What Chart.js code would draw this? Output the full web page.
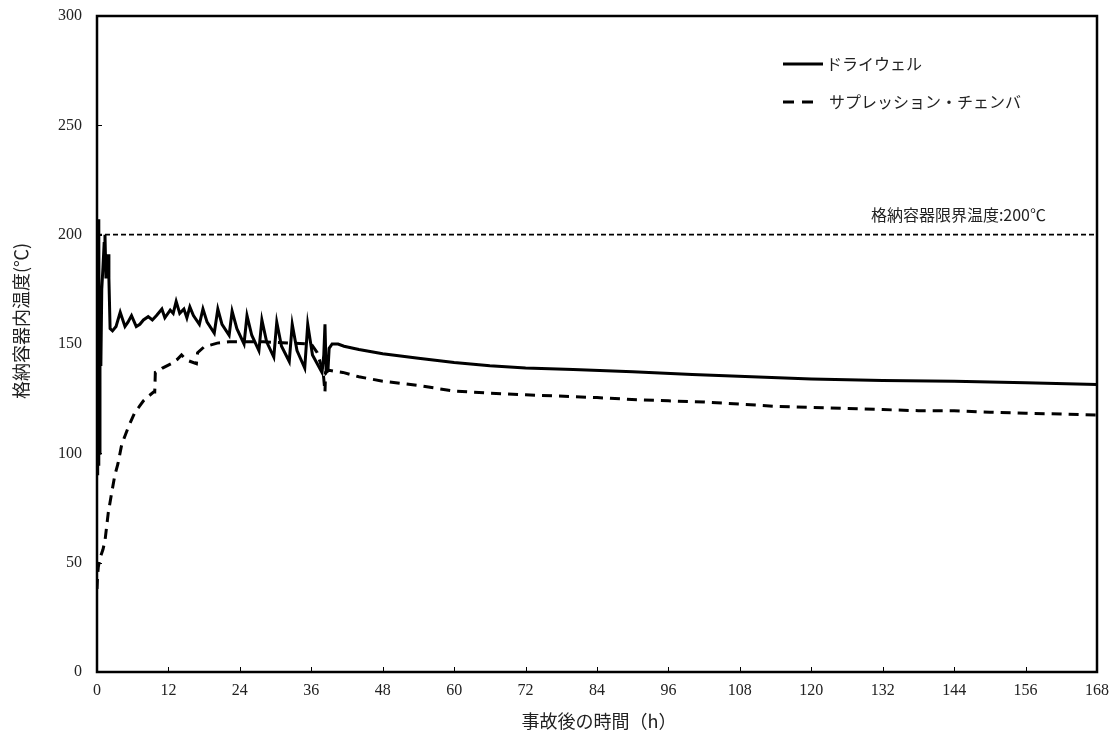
<!DOCTYPE html>
<html>
<head>
<meta charset="utf-8">
<script src="https://cdn.jsdelivr.net/npm/chart.js@4.4.1/dist/chart.umd.min.js"></script>
<style>
  body { margin: 0; background: #fff; }
  #wrap { width: 1120px; height: 744px; }
</style>
</head>
<body>
<div id="wrap"><canvas id="chart"></canvas></div>
<script>
// ドライウェル (solid)
const dwTime = [0, 0.08, 0.15, 0.22, 0.3, 0.38, 0.5, 0.65, 0.8, 1.0, 1.2, 1.34, 1.5, 1.7, 1.85, 2.0, 2.2,
  2.6, 3.2, 3.9, 4.7, 5.2, 5.8, 6.6, 7.2, 7.8, 8.6, 9.3, 10.0, 10.9, 11.4, 12.3, 12.8, 13.3, 13.9, 14.6,
  15.1, 15.6, 16.2, 17.2, 17.8, 18.5, 19.7, 20.3, 21.0, 22.2, 22.7, 23.5, 24.7, 25.2, 26.0, 27.2, 27.7,
  28.5, 29.7, 30.2, 31.0, 32.3, 32.8, 33.6, 34.9, 35.4, 36.2, 37.8, 38.1, 38.3, 38.5, 38.8, 39.0, 39.5,
  40.5, 41.5, 44, 48, 54, 60, 66, 72, 80, 90, 100, 110, 120, 132, 144, 156, 168];
const dwTemp = [140, 90, 160, 95, 207, 100, 150, 140, 175, 185, 196, 200, 180, 188, 191, 180, 157,
  156, 158, 164.5, 158, 160, 163, 158, 159, 161, 162.5, 161, 163, 166, 162, 165.5, 164, 169.5, 164, 166,
  162, 167, 163, 159, 166, 160, 155, 166, 159, 154, 165, 157, 150, 163, 154, 147, 161,
  151, 144, 160, 149, 142, 159, 147, 139, 159, 145, 137, 145, 159, 137, 138, 148, 150,
  150, 149, 147.5, 145.5, 143.5, 141.5, 140, 139, 138.3, 137.3, 136, 135, 134, 133.3, 133, 132.3, 131.5];

// サプレッション・チェンバ (dashed)
const scTime = [0, 0.1, 0.22, 0.5, 1.0, 1.34, 1.9, 2.47, 3.0, 3.5, 4.15, 5.26, 6.4, 7.0, 7.8, 8.6, 9.5,
  9.7, 9.8, 10.3, 11.0, 12.5, 13.5, 14.2, 15.0, 16.7, 16.9, 18.0, 20.2, 22.2, 24, 28, 32, 36, 37, 37.8,
  38.0, 38.3, 38.4, 39, 40, 41.3, 44, 48, 54, 57.6, 60, 66, 72, 74.4, 84, 90.7, 96, 102, 108, 114, 120,
  126, 132, 138, 144, 150, 156, 162, 168];
const scTemp = [38, 44, 48, 52, 56, 60, 73, 82, 90, 95, 104, 112, 119, 121, 124, 126, 128,
  128, 137, 137.5, 139, 141, 143, 145, 142.7, 141, 146, 148.7, 150.4, 151, 151, 151, 150.5, 150, 146, 139,
  137, 128, 137, 138, 137.5, 137, 135, 133, 131, 129.5, 128.5, 127.5, 126.8, 126.5, 125.5, 124.5, 124, 123.5, 122.5, 121.5, 121,
  120.5, 120, 119.5, 119.5, 118.8, 118.3, 118, 117.5];

// 格納容器限界温度
const limitTime = [0, 168];
const limitTemp = [200, 200];

const xTicks = [0, 12, 24, 36, 48, 60, 72, 84, 96, 108, 120, 132, 144, 156, 168];
const yTicks = [0, 50, 100, 150, 200, 250, 300];

const seriesNames = ["ドライウェル", "サプレッション・チェンバ"];
const limitLabel = "格納容器限界温度:200℃";
const xTitle = "事故後の時間（h）";
const yTitle = "格納容器内温度(℃)";

const numFont = '"Liberation Serif", "DejaVu Serif", serif';
const jpFont = '"Noto Sans CJK JP", sans-serif';

function pts(xs, ys) {
  return xs.map((x, i) => ({ x: x, y: ys[i] }));
}

// frame, inward ticks, legend, annotation and axis titles
const decorPlugin = {
  id: "decor",
  afterDatasetsDraw(chart) {
    const ctx = chart.ctx;
    const a = chart.chartArea;
    const xs = chart.scales.x, ys = chart.scales.y;
    ctx.save();
    ctx.strokeStyle = "#000";
    ctx.lineWidth = 1;
    xTicks.forEach(v => {
      const px = Math.round(xs.getPixelForValue(v)) + 0.5;
      ctx.beginPath();
      ctx.moveTo(px, a.bottom);
      ctx.lineTo(px, a.bottom - 5);
      ctx.stroke();
    });
    yTicks.forEach(v => {
      const py = Math.round(ys.getPixelForValue(v)) + 0.5;
      ctx.beginPath();
      ctx.moveTo(a.left, py);
      ctx.lineTo(a.left + 5, py);
      ctx.stroke();
    });
    ctx.lineWidth = 2.5;
    ctx.strokeRect(a.left, a.top, a.right - a.left, a.bottom - a.top);

    // legend
    ctx.lineWidth = 3;
    ctx.beginPath();
    ctx.moveTo(783, 64);
    ctx.lineTo(823, 64);
    ctx.stroke();
    ctx.setLineDash([11, 8]);
    ctx.beginPath();
    ctx.moveTo(783, 102);
    ctx.lineTo(813, 102);
    ctx.stroke();
    ctx.setLineDash([]);
    ctx.fillStyle = "#222";
    ctx.font = "16px " + jpFont;
    ctx.textAlign = "left";
    ctx.textBaseline = "middle";
    ctx.fillText(seriesNames[0], 826, 64);
    ctx.fillText(seriesNames[1], 829, 102);

    // limit label
    ctx.textAlign = "right";
    ctx.fillText(limitLabel, 1046, 215);

    // axis titles
    ctx.font = "18px " + jpFont;
    ctx.textAlign = "center";
    ctx.fillText(xTitle, 599, 721);
    ctx.translate(21, 321);
    ctx.rotate(-Math.PI / 2);
    ctx.fillText(yTitle, 0, 0);
    ctx.restore();
  }
};

new Chart(document.getElementById("chart"), {
  type: "line",
  data: {
    datasets: [
      {
        label: seriesNames[0],
        data: pts(dwTime, dwTemp),
        borderColor: "#000",
        borderWidth: 3,
        pointRadius: 0,
        pointHitRadius: 0,
        tension: 0
      },
      {
        label: seriesNames[1],
        data: pts(scTime, scTemp),
        borderColor: "#000",
        borderWidth: 3,
        borderDash: [10, 7],
        pointRadius: 0,
        pointHitRadius: 0,
        tension: 0
      },
      {
        label: limitLabel,
        data: pts(limitTime, limitTemp),
        borderColor: "#000",
        borderWidth: 1.8,
        borderDash: [5, 3],
        pointRadius: 0,
        pointHitRadius: 0
      }
    ]
  },
  options: {
    responsive: true,
    maintainAspectRatio: false,
    animation: false,
    layout: { autoPadding: false, padding: { top: 16, right: 23, left: 0, bottom: 0 } },
    plugins: {
      legend: { display: false },
      tooltip: { enabled: false }
    },
    scales: {
      x: {
        type: "linear",
        min: 0,
        max: 168,
        afterBuildTicks: s => { s.ticks = xTicks.map(v => ({ value: v })); },
        afterFit: s => { s.height = 72; s.paddingLeft = 0; s.paddingRight = 0; },
        grid: { display: false, drawTicks: false },
        border: { display: false },
        ticks: { color: "#222", padding: 9, maxRotation: 0, font: { family: numFont, size: 16 } }
      },
      y: {
        min: 0,
        max: 300,
        afterBuildTicks: s => { s.ticks = yTicks.map(v => ({ value: v })); },
        afterFit: s => { s.width = 97; s.paddingTop = 0; s.paddingBottom = 0; },
        grid: { display: false, drawTicks: false },
        border: { display: false },
        ticks: { color: "#222", padding: 15, font: { family: numFont, size: 16 } }
      }
    }
  },
  plugins: [decorPlugin]
});
</script>
</body>
</html>
